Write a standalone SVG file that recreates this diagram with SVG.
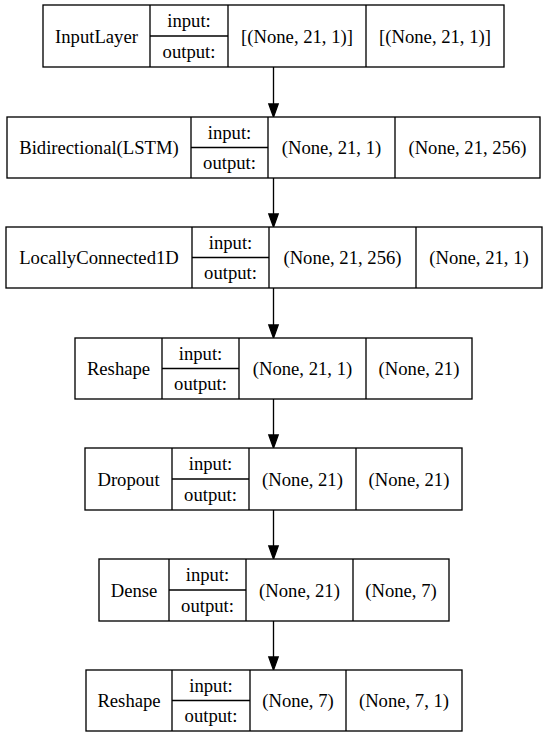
<svg xmlns="http://www.w3.org/2000/svg" width="548" height="737" viewBox="0 0 548 737">
<style>
rect,line.c{fill:#fff;stroke:#000;stroke-width:1.33}
line.c{fill:none}
text{font-family:'Liberation Serif',serif;font-size:18.67px;fill:#000;text-anchor:middle}
.e line{stroke:#000;stroke-width:1.33}
.e polygon{fill:#000;stroke:#000;stroke-width:1.33}
</style>
<rect x="0" y="0" width="548" height="737" style="fill:#fff;stroke:none"/>
<g class="e" id="edges">
<line x1="273.5" y1="67" x2="273.5" y2="104"/><polygon points="273.5,117 268.8,104 278.2,104"/>
<line x1="273.5" y1="178" x2="273.5" y2="214"/><polygon points="273.5,227 268.8,214 278.2,214"/>
<line x1="273.5" y1="288" x2="273.5" y2="325"/><polygon points="273.5,338 268.8,325 278.2,325"/>
<line x1="273.5" y1="399" x2="273.5" y2="435"/><polygon points="273.5,448 268.8,435 278.2,435"/>
<line x1="273.5" y1="510" x2="273.5" y2="546"/><polygon points="273.5,559 268.8,546 278.2,546"/>
<line x1="273.5" y1="621" x2="273.5" y2="657"/><polygon points="273.5,670 268.8,657 278.2,657"/>
</g>
<g id="n1">
<rect x="43" y="5" width="461" height="62"/>
<line class="c" x1="150" y1="5" x2="150" y2="67"/><line class="c" x1="228" y1="5" x2="228" y2="67"/><line class="c" x1="366" y1="5" x2="366" y2="67"/><line class="c" x1="150" y1="36" x2="228" y2="36"/>
<text x="96.5" y="43">InputLayer</text><text x="189" y="27">input:</text><text x="189" y="57.5">output:</text>
<text x="297" y="43">[(None, 21, 1)]</text><text x="435" y="43">[(None, 21, 1)]</text>
</g>
<g id="n2">
<rect x="7" y="117" width="533" height="61"/>
<line class="c" x1="191" y1="117" x2="191" y2="178"/><line class="c" x1="268" y1="117" x2="268" y2="178"/><line class="c" x1="395" y1="117" x2="395" y2="178"/><line class="c" x1="191" y1="147.5" x2="268" y2="147.5"/>
<text x="99" y="154">Bidirectional(LSTM)</text><text x="229.5" y="138.5">input:</text><text x="229.5" y="169">output:</text>
<text x="331.5" y="154">(None, 21, 1)</text><text x="467.5" y="154">(None, 21, 256)</text>
</g>
<g id="n3">
<rect x="6" y="227" width="536" height="61"/>
<line class="c" x1="192" y1="227" x2="192" y2="288"/><line class="c" x1="269" y1="227" x2="269" y2="288"/><line class="c" x1="416" y1="227" x2="416" y2="288"/><line class="c" x1="192" y1="257.5" x2="269" y2="257.5"/>
<text x="99" y="264">LocallyConnected1D</text><text x="230.5" y="248.5">input:</text><text x="230.5" y="279">output:</text>
<text x="342.5" y="264">(None, 21, 256)</text><text x="479" y="264">(None, 21, 1)</text>
</g>
<g id="n4">
<rect x="75" y="338" width="397" height="61"/>
<line class="c" x1="162" y1="338" x2="162" y2="399"/><line class="c" x1="239" y1="338" x2="239" y2="399"/><line class="c" x1="366" y1="338" x2="366" y2="399"/><line class="c" x1="162" y1="368.5" x2="239" y2="368.5"/>
<text x="118.5" y="375">Reshape</text><text x="200.5" y="359.5">input:</text><text x="200.5" y="390">output:</text>
<text x="302.5" y="375">(None, 21, 1)</text><text x="419" y="375">(None, 21)</text>
</g>
<g id="n5">
<rect x="85" y="448" width="377" height="62"/>
<line class="c" x1="172" y1="448" x2="172" y2="510"/><line class="c" x1="249" y1="448" x2="249" y2="510"/><line class="c" x1="356" y1="448" x2="356" y2="510"/><line class="c" x1="172" y1="479" x2="249" y2="479"/>
<text x="128.5" y="485.5">Dropout</text><text x="210.5" y="470">input:</text><text x="210.5" y="500.5">output:</text>
<text x="302.5" y="485.5">(None, 21)</text><text x="409" y="485.5">(None, 21)</text>
</g>
<g id="n6">
<rect x="99" y="559" width="350" height="62"/>
<line class="c" x1="169" y1="559" x2="169" y2="621"/><line class="c" x1="246" y1="559" x2="246" y2="621"/><line class="c" x1="353" y1="559" x2="353" y2="621"/><line class="c" x1="169" y1="590" x2="246" y2="590"/>
<text x="134" y="596.5">Dense</text><text x="207.5" y="581">input:</text><text x="207.5" y="611.5">output:</text>
<text x="299.5" y="596.5">(None, 21)</text><text x="401" y="596.5">(None, 7)</text>
</g>
<g id="n7">
<rect x="86" y="670" width="376" height="61"/>
<line class="c" x1="172" y1="670" x2="172" y2="731"/><line class="c" x1="250" y1="670" x2="250" y2="731"/><line class="c" x1="346" y1="670" x2="346" y2="731"/><line class="c" x1="172" y1="700.5" x2="250" y2="700.5"/>
<text x="129" y="707">Reshape</text><text x="211" y="691.5">input:</text><text x="211" y="722">output:</text>
<text x="298" y="707">(None, 7)</text><text x="404" y="707">(None, 7, 1)</text>
</g>
</svg>
